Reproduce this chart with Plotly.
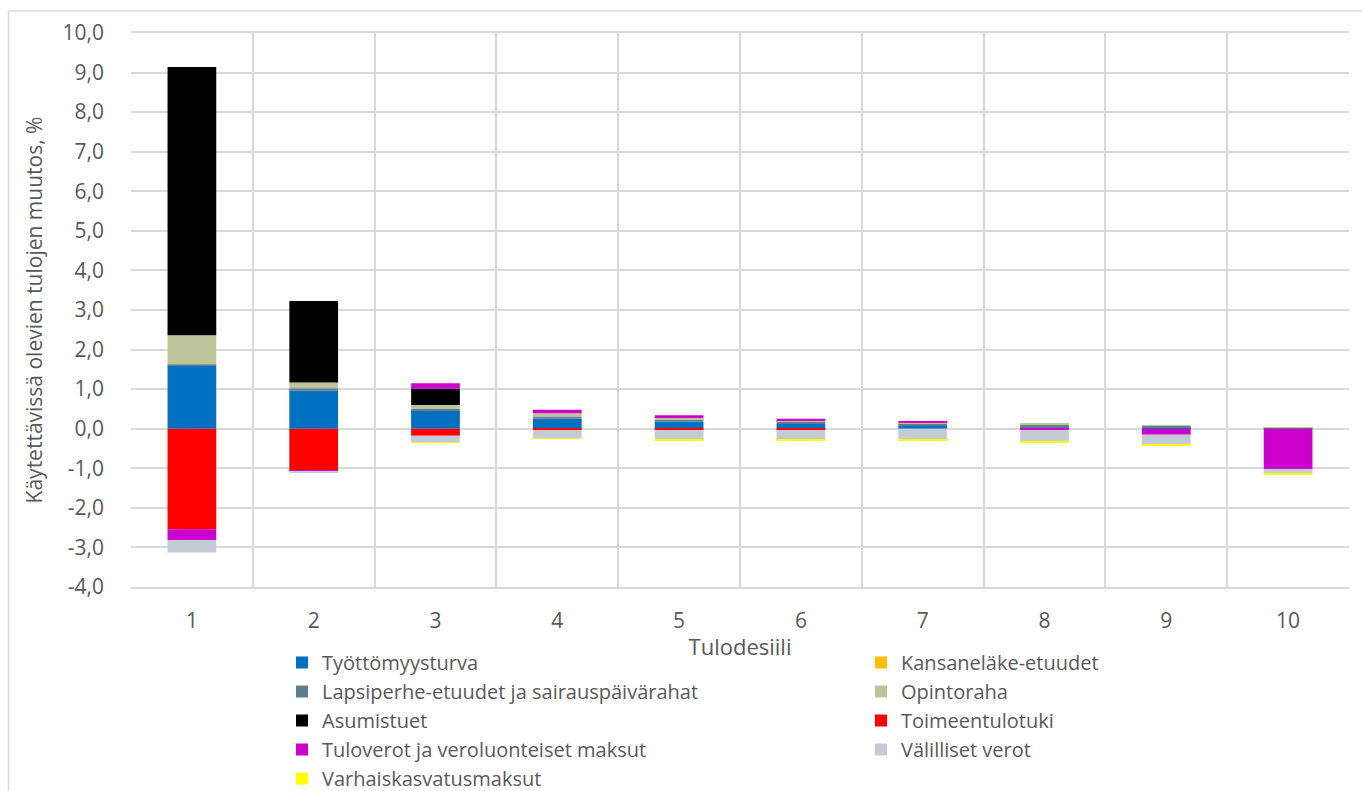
import plotly.graph_objects as go

# Income deciles
deciles = ["1", "2", "3", "4", "5", "6", "7", "8", "9", "10"]

# Change in disposable income by component, percent
tyottomyysturva = [1.59, 0.96, 0.46, 0.25, 0.18, 0.12, 0.08, 0.01, 0.02, 0.00]
kansanelake = [0.00, 0.00, 0.00, 0.00, 0.00, 0.00, 0.00, 0.00, 0.00, 0.00]
lapsiperhe = [0.03, 0.06, 0.04, 0.06, 0.06, 0.07, 0.05, 0.10, 0.05, 0.03]
opintoraha = [0.74, 0.15, 0.10, 0.08, 0.05, 0.02, 0.02, 0.02, 0.01, 0.01]
asumistuet = [6.78, 2.06, 0.41, 0.00, 0.00, 0.00, 0.00, 0.00, 0.00, 0.00]
toimeentulotuki = [-2.54, -1.06, -0.18, -0.04, -0.04, -0.03, 0.00, 0.00, 0.00, 0.00]
tuloverot = [-0.27, -0.01, 0.14, 0.09, 0.05, 0.04, 0.03, -0.04, -0.15, -1.02]
valilliset = [-0.32, -0.03, -0.17, -0.21, -0.22, -0.24, -0.27, -0.28, -0.25, -0.11]
varhaiskasvatus = [0.00, 0.00, -0.01, -0.01, -0.03, -0.02, -0.03, -0.03, -0.03, -0.02]

y_tickvals = [-4, -3, -2, -1, 0, 1, 2, 3, 4, 5, 6, 7, 8, 9, 10]
y_ticktext = ["-4,0", "-3,0", "-2,0", "-1,0", "0,0", "1,0", "2,0", "3,0", "4,0",
              "5,0", "6,0", "7,0", "8,0", "9,0", "10,0"]

series = [
    ("Työttömyysturva", tyottomyysturva, "#0070C0"),
    ("Kansaneläke-etuudet", kansanelake, "#FFC000"),
    ("Lapsiperhe-etuudet ja sairauspäivärahat", lapsiperhe, "#607D8B"),
    ("Opintoraha", opintoraha, "#BDC499"),
    ("Asumistuet", asumistuet, "#000000"),
    ("Toimeentulotuki", toimeentulotuki, "#FF0000"),
    ("Tuloverot ja veroluonteiset maksut", tuloverot, "#CC00CC"),
    ("Välilliset verot", valilliset, "#C3CCD5"),
    ("Varhaiskasvatusmaksut", varhaiskasvatus, "#FFFF00"),
]

FONT = "Open Sans"
TXT = "#595959"
GRID = "#D9D9D9"

fig = go.Figure()
for name, vals, color in series:
    fig.add_trace(go.Bar(
        x=deciles, y=vals, name=name,
        marker=dict(color=color, line=dict(width=0)),
    ))

W, H = 1362, 791
ML, MR, MT, MB = 131, 13, 33, 204
pw = W - ML - MR
ph = H - MT - MB

fig.update_layout(
    width=W, height=H, autosize=False,
    margin=dict(l=ML, r=MR, t=MT, b=MB, pad=0, autoexpand=False),
    barmode="relative",
    bargap=0.6,
    plot_bgcolor="white",
    paper_bgcolor="white",
    font=dict(family=FONT, size=21, color=TXT),
    legend=dict(
        orientation="h",
        entrywidth=534, entrywidthmode="pixels",
        x=(282 - ML) / pw, xanchor="left",
        y=-(643 - (MT + ph)) / ph, yanchor="top",
        font=dict(family=FONT, size=20, color=TXT),
        bgcolor="rgba(0,0,0,0)",
        traceorder="normal",
    ),
    shapes=[dict(
        type="rect", xref="paper", yref="paper",
        x0=(8.5 - ML) / pw, x1=1.2,
        y0=-0.6, y1=(MT + ph - 11) / ph,
        line=dict(color=GRID, width=1.5), fillcolor="rgba(0,0,0,0)",
        layer="below",
    )],
)

fig.update_xaxes(
    type="category",
    tickson="boundaries",
    automargin=False,
    showgrid=True, gridcolor=GRID, gridwidth=2,
    showline=True, linecolor=GRID, linewidth=2, mirror=True,
    ticks="", ticklabelstandoff=14,
    tickfont=dict(family=FONT, size=21, color=TXT),
    title=dict(text="Tulodesiili", standoff=6,
               font=dict(family=FONT, size=22, color=TXT)),
)
fig.update_yaxes(
    range=[-4, 10],
    automargin=False,
    tickvals=y_tickvals, ticktext=y_ticktext,
    showgrid=True, gridcolor=GRID, gridwidth=2,
    zeroline=True, zerolinecolor=GRID, zerolinewidth=2,
    showline=False,
    ticks="", ticklabelstandoff=26,
    tickfont=dict(family=FONT, size=21, color=TXT),
    title=dict(text="Käytettävissä olevien tulojen muutos, %", standoff=14,
               font=dict(family=FONT, size=21, color=TXT)),
)

fig.write_html("out.html")
